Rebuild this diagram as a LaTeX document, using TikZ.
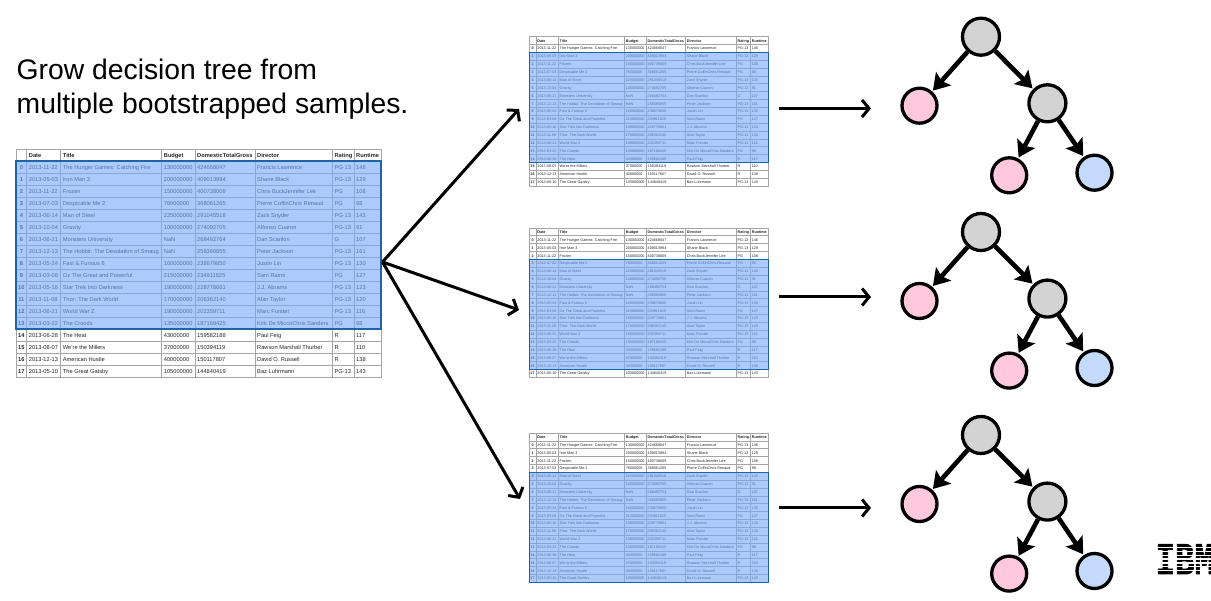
\documentclass[tikz,border=0pt]{standalone}
\usepackage{fontspec}
\setmainfont{Liberation Sans}
\newfontfamily\logofont[BoldFeatures={FakeBold=2}]{Liberation Mono}
\usepackage{xcolor}
\usetikzlibrary{arrows.meta}

\definecolor{gridgray}{RGB}{165,165,165}
\definecolor{bandblue}{RGB}{117,167,250}
\definecolor{bandedge}{RGB}{30,100,170}
\definecolor{innergray}{RGB}{211,211,211}
\definecolor{leafpink}{RGB}{255,200,220}
\definecolor{leafblue}{RGB}{195,218,253}

\tikzset{
  tablebox/.style={draw=gridgray,line width=0.7pt,rectangle,inner sep=0pt,outer sep=0pt,minimum width=365pt,minimum height=228pt,anchor=north west},
  cell/.style={inner sep=0pt,anchor=base west,text=black!85,font=\fontsize{5.7}{7}\selectfont},
  headcell/.style={cell,font=\fontsize{5.7}{7}\selectfont\bfseries},
  rowno/.style={cell,anchor=base,font=\fontsize{5.7}{7}\selectfont\bfseries},
  splitnode/.style={circle,draw=black,line width=3.3pt,fill=innergray,minimum size=37pt,inner sep=0pt},
  pinkleaf/.style={circle,draw=black,line width=3.3pt,fill=leafpink,minimum size=35pt,inner sep=0pt},
  blueleaf/.style={circle,draw=black,line width=3.3pt,fill=leafblue,minimum size=35pt,inner sep=0pt},
  treearrow/.style={line width=4.6pt,-{Stealth[length=16pt,width=20pt,inset=3pt]},shorten >=1pt},
  bigarrow/.style={line width=3pt,-{Straight Barb[length=7pt,width=17pt]}}
}

\newcommand{\movierows}{
  0/2013-11-22/The Hunger Games: Catching Fire/130000000/424668047/Francis Lawrence/PG-13/146,
  1/2013-05-03/Iron Man 3/200000000/409013994/Shane Black/PG-13/129,
  2/2013-11-22/Frozen/150000000/400738009/Chris BuckJennifer Lee/PG/108,
  3/2013-07-03/Despicable Me 2/76000000/368061265/Pierre CoffinChris Renaud/PG/98,
  4/2013-06-14/Man of Steel/225000000/291045518/Zack Snyder/PG-13/143,
  5/2013-10-04/Gravity/100000000/274092705/Alfonso Cuaron/PG-13/91,
  6/2013-06-21/Monsters University/NaN/268492764/Dan Scanlon/G/107,
  7/2013-12-13/The Hobbit: The Desolation of Smaug/NaN/258366855/Peter Jackson/PG-13/161,
  8/2013-05-24/Fast \& Furious 6/160000000/238679850/Justin Lin/PG-13/130,
  9/2013-03-08/Oz The Great and Powerful/215000000/234911825/Sam Raimi/PG/127,
  10/2013-05-16/Star Trek Into Darkness/190000000/228778661/J.J. Abrams/PG-13/123,
  11/2013-11-08/Thor: The Dark World/170000000/206362140/Alan Taylor/PG-13/120,
  12/2013-06-21/World War Z/190000000/202359711/Marc Forster/PG-13/116,
  13/2013-03-22/The Croods/135000000/187168425/Kirk De MiccoChris Sanders/PG/98,
  14/2013-06-28/The Heat/43000000/159582188/Paul Feig/R/117,
  15/2013-08-07/We're the Millers/37000000/150394119/Rawson Marshall Thurber/R/110,
  16/2013-12-13/American Hustle/40000000/150117807/David O. Russell/R/138,
  17/2013-05-10/The Great Gatsby/105000000/144840419/Baz Luhrmann/PG-13/143}

% name, left, top, scale, first and last row of the sample
\newcommand{\movietable}[6]{
  \begin{scope}[shift={(#2,#3)},scale=#4,every node/.append style={transform shape}]
    \node[tablebox] (#1) at (0,0) {};
    \foreach \cx in {10.7,44.7,145.7,179,239,316.3,338}
      \draw[gridgray,line width=0.7pt] (\cx,0) -- (\cx,-228);
    \foreach \ry in {1,...,18}
      \draw[gridgray,line width=0.7pt] (0,-12*\ry) -- (365,-12*\ry);
    \node[headcell] (#1-date) at (12.7,-8.3) {Date};
    \node[headcell] (#1-title) at (46.7,-8.3) {Title};
    \node[headcell] (#1-budget) at (147.7,-8.3) {Budget};
    \node[headcell] (#1-gross) at (181,-8.3) {DomesticTotalGross};
    \node[headcell] (#1-director) at (241,-8.3) {Director};
    \node[headcell] (#1-rating) at (318.3,-8.3) {Rating};
    \node[headcell] (#1-runtime) at (340,-8.3) {Runtime};
    \foreach \idx/\released/\film/\budget/\gross/\boss/\rated/\mins in \movierows {
      \node[rowno] (#1-\idx-n) at (5.4,{-12*\idx-20.3}) {\idx};
      \node[cell] (#1-\idx-a) at (12.7,{-12*\idx-20.3}) {\released};
      \node[cell] (#1-\idx-b) at (46.7,{-12*\idx-20.3}) {\film};
      \node[cell] (#1-\idx-c) at (147.7,{-12*\idx-20.3}) {\budget};
      \node[cell] (#1-\idx-d) at (181,{-12*\idx-20.3}) {\gross};
      \node[cell] (#1-\idx-e) at (241,{-12*\idx-20.3}) {\boss};
      \node[cell] (#1-\idx-f) at (318.3,{-12*\idx-20.3}) {\rated};
      \node[cell] (#1-\idx-g) at (340,{-12*\idx-20.3}) {\mins};
    }
    \fill[bandblue,fill opacity=0.6] (0,{-12*(#5+1)}) rectangle (365,{-12*(#6+2)});
    \draw[bandedge,line width=#4*1.3pt] (0,{-12*(#5+1)}) rectangle (365,{-12*(#6+2)});
  \end{scope}
}

% name, shift down
\newcommand{\decisiontree}[2]{
  \begin{scope}[yshift=#2pt]
    \node[splitnode] (#1root) at (981,564.3) {};
    \node[pinkleaf] (#1left) at (919.5,495.3) {};
    \node[splitnode] (#1right) at (1047.4,497.7) {};
    \node[pinkleaf] (#1low) at (1009.2,425.7) {};
    \node[blueleaf] (#1blue) at (1094.5,428.3) {};
    \draw[treearrow] (#1root) -- (#1left);
    \draw[treearrow] (#1root) -- (#1right);
    \draw[treearrow] (#1right) -- (#1low);
    \draw[treearrow] (#1right) -- (#1blue);
  \end{scope}
}

\begin{document}
\begin{tikzpicture}[x=1pt,y=1pt]
  \useasboundingbox (0,0) rectangle (1211,601);

  \node[inner sep=0pt,anchor=base west,align=left,font=\fontsize{28.3}{34.5}\selectfont] (heading) at (16.5,487) {Grow decision tree from\\multiple bootstrapped samples.};

  \movietable{full}{16}{452}{1}{0}{13}
  \movietable{sampleA}{529}{564.3}{0.655}{1}{14}
  \movietable{sampleB}{529}{373}{0.655}{3}{16}
  \movietable{sampleC}{529}{168}{0.655}{4}{17}

  \coordinate (fork) at (382.5,339);
  \coordinate (inA) at (519,492);
  \coordinate (inB) at (519,291);
  \coordinate (inC) at (520,102);
  \draw[bigarrow] (fork) -- (inA);
  \draw[bigarrow] (fork) -- (inB);
  \draw[bigarrow] (fork) -- (inC);

  \coordinate (outA) at (779,492.5);
  \coordinate (toA) at (871,492.5);
  \coordinate (outB) at (779,304);
  \coordinate (toB) at (871,304);
  \coordinate (outC) at (779,93);
  \coordinate (toC) at (871,93);
  \draw[bigarrow] (outA) -- (toA);
  \draw[bigarrow] (outB) -- (toB);
  \draw[bigarrow] (outC) -- (toC);

  \decisiontree{a}{0}
  \decisiontree{b}{-195.3}
  \decisiontree{c}{-398.3}

  % striped logo, runs off the right edge
  \begin{scope}[xscale=0.72]
    \node[inner sep=0pt,anchor=base west,transform shape,font=\fontsize{45}{45}\selectfont\logofont\bfseries] (ibm) at (1155.5/0.72,27) {IBM};
  \end{scope}
  \foreach \sy in {30.5,34.3,38.1,41.9,45.7,49.5,53.3}
    \draw[white,line width=1.5pt] (1150,\sy) -- (1211,\sy);
\end{tikzpicture}
\end{document}
